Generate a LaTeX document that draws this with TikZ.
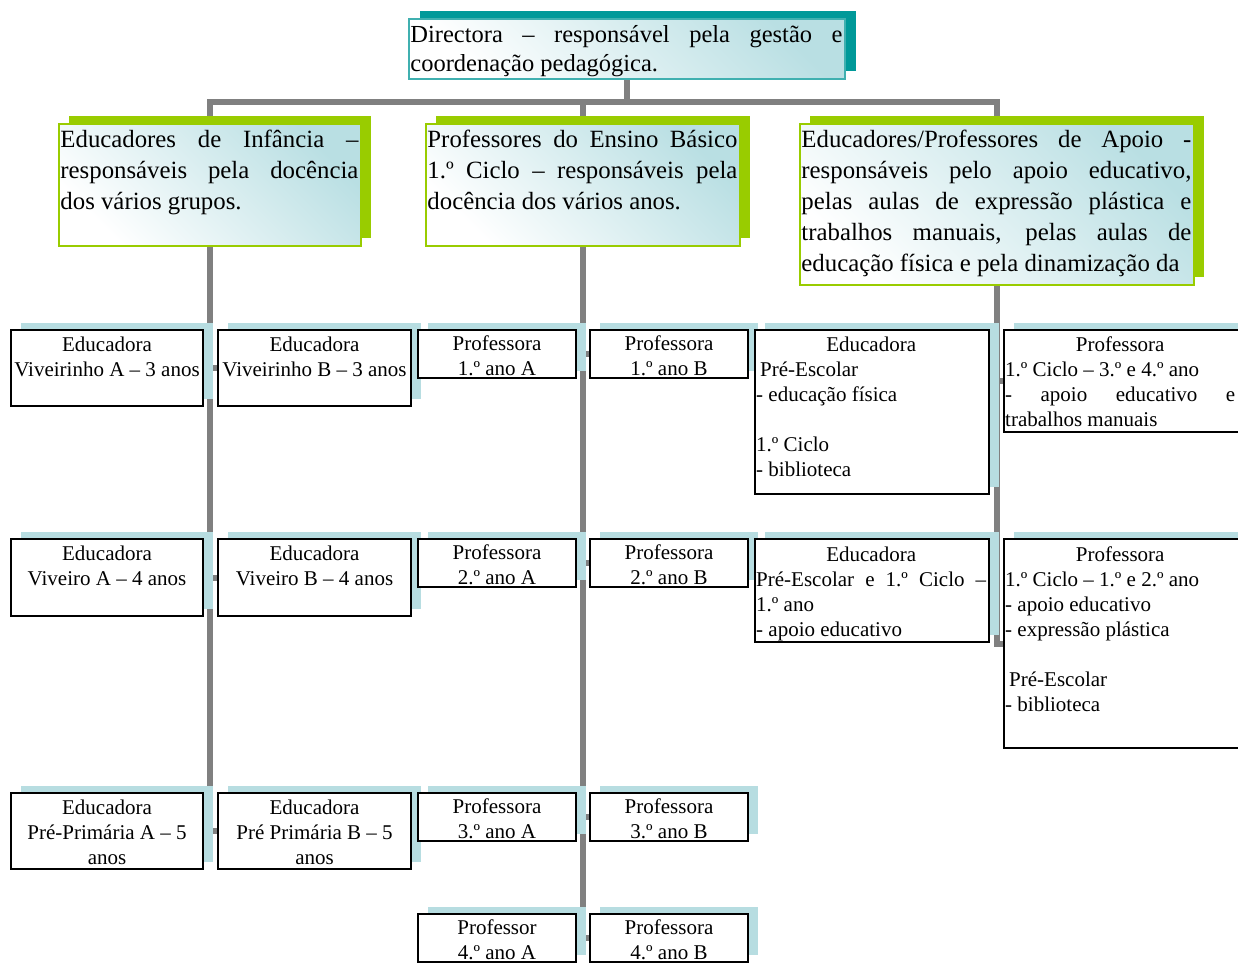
\documentclass[tikz,border=0pt]{standalone}
\usepackage{fontspec}
\setmainfont{Liberation Serif}
\usetikzlibrary{positioning, calc, shadows}

\definecolor{linkgrey}{HTML}{808080}
\definecolor{dirshadow}{HTML}{009999}
\definecolor{dirline}{HTML}{40B0B0}
\definecolor{grpgreen}{HTML}{99CC00}
\definecolor{leafshadow}{HTML}{B7DDE1}
\definecolor{gradblue}{HTML}{B9DFE3}

\pgfdeclarelayer{bg}
\pgfsetlayers{bg,main}

\tikzset{
  link/.style={draw=linkgrey, line width=6pt},
  dirbox/.style={draw=dirline, line width=1.5pt, top color=gradblue, bottom color=white,
    shading angle=-45, inner sep=0pt,
    drop shadow={shadow xshift=11pt, shadow yshift=8pt, fill=dirshadow, opacity=1}},
  grpbox/.style={draw=grpgreen, line width=1.5pt, top color=gradblue, bottom color=white,
    shading angle=-45, inner sep=0pt,
    drop shadow={shadow xshift=10pt, shadow yshift=8pt, fill=grpgreen, opacity=1}},
  leaf/.style={draw=black, line width=2pt, fill=white, inner sep=0pt,
    drop shadow={shadow xshift=10pt, shadow yshift=7pt, fill=leafshadow, opacity=1}},
  bigtxt/.style={font=\fontsize{24.8}{31}\selectfont, align=justify, inner sep=0pt, anchor=base west},
  leaftxt/.style={font=\fontsize{21}{25}\selectfont, text width=240pt, align=flush center, inner sep=0pt, anchor=base},
  sidetxt/.style={font=\fontsize{21}{25}\selectfont, text width=230pt, align=justify, inner sep=0pt, anchor=base west}
}

\begin{document}
\begin{tikzpicture}[x=1pt, y=-1pt]
\useasboundingbox (0,0) rectangle (1238,962);

% top and groups
\node[dirbox, minimum width=436, minimum height=60] (dir) at (627,49) {};
\node[grpbox, minimum width=302, minimum height=122] (inf) at (210,185) {};
\node[grpbox, minimum width=314, minimum height=122] (bas) at (583,185) {};
\node[grpbox, minimum width=394, minimum height=161] (apo) at (997,204.5) {};

% educadoras
\node[leaf, minimum width=192, minimum height=76] (infA1) at (107,368) {};
\node[leaf, minimum width=193, minimum height=76] (infB1) at (314.5,368) {};
\node[leaf, minimum width=192, minimum height=77] (infA2) at (107,577.5) {};
\node[leaf, minimum width=193, minimum height=77] (infB2) at (314.5,577.5) {};
\node[leaf, minimum width=192, minimum height=76] (infA3) at (107,831) {};
\node[leaf, minimum width=193, minimum height=76] (infB3) at (314.5,831) {};

% professoras
\node[leaf, minimum width=158, minimum height=48] (basA1) at (497,354) {};
\node[leaf, minimum width=158, minimum height=48] (basB1) at (669,354) {};
\node[leaf, minimum width=158, minimum height=48] (basA2) at (497,563) {};
\node[leaf, minimum width=158, minimum height=48] (basB2) at (669,563) {};
\node[leaf, minimum width=158, minimum height=48] (basA3) at (497,817) {};
\node[leaf, minimum width=158, minimum height=48] (basB3) at (669,817) {};
\node[leaf, minimum width=158, minimum height=48] (basA4) at (497,938) {};
\node[leaf, minimum width=158, minimum height=48] (basB4) at (669,938) {};

% apoio
\node[leaf, minimum width=234, minimum height=164] (apoE1) at (872,412) {};
\node[leaf, minimum width=236, minimum height=102] (apoF1) at (1122,381) {};
\node[leaf, minimum width=234, minimum height=103] (apoE2) at (872,590.5) {};
\node[leaf, minimum width=236, minimum height=209] (apoF2) at (1122,643.5) {};

% texts
\node[bigtxt, text width=432pt, font=\fontsize{24.5}{29}\selectfont] (dirt) at ($(dir.north west)+(2,24)$)
  {Directora – responsável pela gestão e\linebreak coordenação pedagógica.};
\node[bigtxt, text width=298pt] (inft) at ($(inf.north west)+(2,24)$)
  {Educadores de Infância –\linebreak responsáveis pela docência\linebreak dos vários grupos.};
\node[bigtxt, text width=310pt] (bast) at ($(bas.north west)+(2,24)$)
  {Professores do Ensino Básico\linebreak 1.º Ciclo – responsáveis pela\linebreak docência dos vários anos.};
\node[bigtxt, text width=390pt] (apot) at ($(apo.north west)+(2,24)$)
  {\parfillskip=0pt Educadores/Professores de Apoio -\linebreak responsáveis pelo apoio educativo,\linebreak
   pelas aulas de expressão plástica e\linebreak trabalhos manuais, pelas aulas de\linebreak
   educação física e pela dinamização da};

\node[leaftxt] (infA1t) at ($(infA1.north)+(0,22)$) {Educadora\\Viveirinho A – 3 anos};
\node[leaftxt] (infB1t) at ($(infB1.north)+(0,22)$) {Educadora\\Viveirinho B – 3 anos};
\node[leaftxt] (infA2t) at ($(infA2.north)+(0,22)$) {Educadora\\Viveiro A – 4 anos};
\node[leaftxt] (infB2t) at ($(infB2.north)+(0,22)$) {Educadora\\Viveiro B – 4 anos};
\node[leaftxt] (infA3t) at ($(infA3.north)+(0,22)$) {Educadora\\Pré-Primária A – 5\\anos};
\node[leaftxt] (infB3t) at ($(infB3.north)+(0,22)$) {Educadora\\Pré Primária B – 5\\anos};

\node[leaftxt] (basA1t) at ($(basA1.north)+(0,21)$) {Professora\\1.º ano A};
\node[leaftxt] (basB1t) at ($(basB1.north)+(0,21)$) {Professora\\1.º ano B};
\node[leaftxt] (basA2t) at ($(basA2.north)+(0,21)$) {Professora\\2.º ano A};
\node[leaftxt] (basB2t) at ($(basB2.north)+(0,21)$) {Professora\\2.º ano B};
\node[leaftxt] (basA3t) at ($(basA3.north)+(0,21)$) {Professora\\3.º ano A};
\node[leaftxt] (basB3t) at ($(basB3.north)+(0,21)$) {Professora\\3.º ano B};
\node[leaftxt] (basA4t) at ($(basA4.north)+(0,21)$) {Professor\\4.º ano A};
\node[leaftxt] (basB4t) at ($(basB4.north)+(0,21)$) {Professora\\4.º ano B};

\node[sidetxt] (apoE1t) at ($(apoE1.north west)+(2,22)$)
  {{\centering Educadora\par}\hspace*{4pt}Pré-Escolar\\- educação física\\\mbox{}\\1.º Ciclo\\- biblioteca};
\node[sidetxt] (apoF1t) at ($(apoF1.north west)+(2,22)$)
  {{\centering Professora\par}1.º Ciclo – 3.º e 4.º ano\\- apoio educativo e\linebreak trabalhos manuais};
\node[sidetxt] (apoE2t) at ($(apoE2.north west)+(2,23)$)
  {{\centering Educadora\par}Pré-Escolar e 1.º Ciclo –\linebreak 1.º ano\\- apoio educativo};
\node[sidetxt] (apoF2t) at ($(apoF2.north west)+(2,23)$)
  {{\centering Professora\par}1.º Ciclo – 1.º e 2.º ano\\- apoio educativo\\- expressão plástica\\\mbox{}\\\hspace*{4pt}Pré-Escolar\\- biblioteca};

% connectors
\begin{pgfonlayer}{bg}
\draw[link] (dir.south) -- ++(0,22) -| (inf.north);
\draw[link] (dir.south) -- ++(0,22) -| (bas.north);
\draw[link] (dir.south) -- ++(0,22) -| (apo.north);

\draw[link] (inf.south) |- (infA1.east);
\draw[link] (inf.south) |- (infB1.west);
\draw[link] (inf.south) |- (infA2.east);
\draw[link] (inf.south) |- (infB2.west);
\draw[link] (inf.south) |- (infA3.east);
\draw[link] (inf.south) |- (infB3.west);

\draw[link] (bas.south) |- (basA1.east);
\draw[link] (bas.south) |- (basB1.west);
\draw[link] (bas.south) |- (basA2.east);
\draw[link] (bas.south) |- (basB2.west);
\draw[link] (bas.south) |- (basA3.east);
\draw[link] (bas.south) |- (basB3.west);
\draw[link] (bas.south) |- (basA4.east);
\draw[link] (bas.south) |- (basB4.west);

\draw[link] (apo.south) |- (apoE1.east);
\draw[link] (apo.south) |- (apoF1.west);
\draw[link] (apo.south) |- (apoE2.east);
\draw[link] (apo.south) |- (apoF2.west);
\end{pgfonlayer}
\end{tikzpicture}
\end{document}
